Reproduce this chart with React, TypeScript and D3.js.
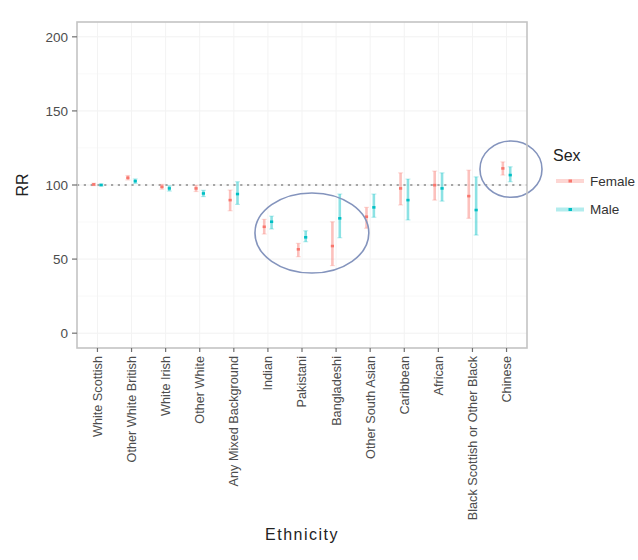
import React from "react";
import * as d3 from "d3";

const categories = [
  "White Scottish",
  "Other White British",
  "White Irish",
  "Other White",
  "Any Mixed Background",
  "Indian",
  "Pakistani",
  "Bangladeshi",
  "Other South Asian",
  "Caribbean",
  "African",
  "Black Scottish or Other Black",
  "Chinese",
];

const femaleRR = [100.4, 104.9, 98.8, 97.7, 89.8, 71.8, 56.6, 58.8, 78.6, 97.7, 99.9, 92.5, 111.2];
const femaleLo = [99.6, 103.4, 97.2, 95.6, 82.6, 66.9, 51.6, 45.6, 70.8, 86.5, 89.8, 77.5, 106.7];
const femaleHi = [101.2, 106.4, 100.4, 99.8, 96.6, 76.8, 60.6, 75.2, 84.9, 108.2, 109.4, 110.0, 115.6];

const maleRR = [100.0, 102.6, 97.7, 94.3, 93.9, 75.2, 64.7, 77.5, 84.9, 89.8, 97.7, 83.1, 106.7];
const maleLo = [99.3, 101.1, 95.9, 92.2, 86.9, 70.3, 61.7, 64.4, 78.2, 76.4, 89.1, 66.2, 102.2];
const maleHi = [100.7, 104.1, 99.5, 96.4, 102.2, 79.0, 69.1, 93.9, 93.9, 104.0, 108.2, 105.5, 112.3];

const yTicks = [0, 50, 100, 150, 200];
const yMinor = [25, 75, 125, 175];
const refLine = 100;

const sexLabels = ["Female", "Male"];
const sexColors = ["#F8766D", "#00BFC4"];

// annotation ellipses in data units: [category position, RR, half-width (categories), half-height (RR)]
const ellipses = [
  [6.29, 67.6, 1.67, 27.0],
  [12.13, 110.7, 0.91, 19.0],
];

const W = 638;
const H = 560;
const P = { left: 77, right: 527, top: 22, bottom: 348 };
const FONT = "'Liberation Sans', Arial, Helvetica, sans-serif";

export default function App() {
  const x = d3.scaleLinear().domain([-0.6, categories.length - 1 + 0.6]).range([P.left, P.right]);
  const y = d3.scaleLinear().domain([-10, 210]).range([P.bottom, P.top]);
  const dodge = 0.108;

  const series = [
    { rr: femaleRR, lo: femaleLo, hi: femaleHi, color: sexColors[0], off: -dodge },
    { rr: maleRR, lo: maleLo, hi: maleHi, color: sexColors[1], off: dodge },
  ];

  return (
    <div style={{ position: "absolute", left: 0, top: 0 }}>
      <svg width={W} height={H} style={{ display: "block", background: "#fff" }}>
        {/* grid */}
        {yMinor.map((v) => (
          <line key={"mi" + v} x1={P.left} x2={P.right} y1={y(v)} y2={y(v)} stroke="#f8f8f8" strokeWidth={0.8} />
        ))}
        {yTicks.map((v) => (
          <line key={"ma" + v} x1={P.left} x2={P.right} y1={y(v)} y2={y(v)} stroke="#f1f1f1" strokeWidth={1} />
        ))}
        {categories.map((c, i) => (
          <line key={"vx" + i} x1={x(i)} x2={x(i)} y1={P.top} y2={P.bottom} stroke="#f3f3f3" strokeWidth={1} />
        ))}

        {/* reference line */}
        <line
          x1={P.left}
          x2={P.right}
          y1={y(refLine)}
          y2={y(refLine)}
          stroke="#8a8a8a"
          strokeWidth={1.6}
          strokeDasharray="2.2,4.6"
        />

        {/* error bars */}
        {series.map((s, si) =>
          categories.map((c, i) => {
            const cx = x(i + s.off);
            return (
              <g key={si + "-" + i}>
                <line x1={cx} x2={cx} y1={y(s.lo[i])} y2={y(s.hi[i])} stroke={s.color} strokeOpacity={0.45} strokeWidth={2.6} />
                <line x1={cx - 2.5} x2={cx + 2.5} y1={y(s.lo[i])} y2={y(s.lo[i])} stroke={s.color} strokeOpacity={0.25} strokeWidth={1.2} />
                <line x1={cx - 2.5} x2={cx + 2.5} y1={y(s.hi[i])} y2={y(s.hi[i])} stroke={s.color} strokeOpacity={0.25} strokeWidth={1.2} />
                <rect x={cx - 1.6} y={y(s.rr[i]) - 1.3} width={3.2} height={2.6} fill={s.color} />
              </g>
            );
          })
        )}

        {/* ellipses */}
        {ellipses.map((e, k) => (
          <ellipse
            key={"el" + k}
            cx={x(e[0])}
            cy={y(e[1])}
            rx={x(e[0] + e[2]) - x(e[0])}
            ry={y(e[1] - e[3]) - y(e[1])}
            fill="none"
            stroke="#8494bd"
            strokeWidth={1.6}
          />
        ))}

        {/* panel border */}
        <rect x={P.left} y={P.top} width={P.right - P.left} height={P.bottom - P.top} fill="none" stroke="#c4c4c4" strokeWidth={1.6} />

        {/* y axis */}
        {yTicks.map((v) => (
          <g key={"yt" + v}>
            <line x1={P.left - 5} x2={P.left} y1={y(v)} y2={y(v)} stroke="#707070" strokeWidth={1.2} />
            <text x={P.left - 9} y={y(v)} dy="0.35em" textAnchor="end" fontFamily={FONT} fontSize={13.5} fill="#4d4d4d">
              {v}
            </text>
          </g>
        ))}

        {/* x axis */}
        {categories.map((c, i) => (
          <g key={"xt" + i}>
            <line x1={x(i)} x2={x(i)} y1={P.bottom} y2={P.bottom + 4} stroke="#707070" strokeWidth={1.2} />
            <text
              transform={`translate(${x(i)},${P.bottom + 8}) rotate(-90)`}
              textAnchor="end"
              dy="0.35em"
              fontFamily={FONT}
              fontSize={12.7}
              fill="#4d4d4d"
            >
              {c}
            </text>
          </g>
        ))}

        {/* axis titles */}
        <text x={(P.left + P.right) / 2} y={540} textAnchor="middle" fontFamily={FONT} fontSize={16} letterSpacing={1.5} fill="#222">
          Ethnicity
        </text>
        <text
          transform={`translate(${28},${(P.top + P.bottom) / 2}) rotate(-90)`}
          textAnchor="middle"
          fontFamily={FONT}
          fontSize={16}
          fill="#222"
        >
          RR
        </text>

        {/* legend */}
        <text x={553} y={160.5} fontFamily={FONT} fontSize={16} fill="#222">
          Sex
        </text>
        {sexLabels.map((lab, k) => {
          const ly = 181 + k * 28.5;
          return (
            <g key={"lg" + k}>
              <line x1={556} x2={584} y1={ly} y2={ly} stroke={sexColors[k]} strokeOpacity={0.3} strokeWidth={4} />
              <rect x={568.5} y={ly - 1.5} width={3.5} height={3} fill={sexColors[k]} />
              <text x={590} y={ly} dy="0.35em" fontFamily={FONT} fontSize={13.5} fill="#333">
                {lab}
              </text>
            </g>
          );
        })}
      </svg>
    </div>
  );
}
